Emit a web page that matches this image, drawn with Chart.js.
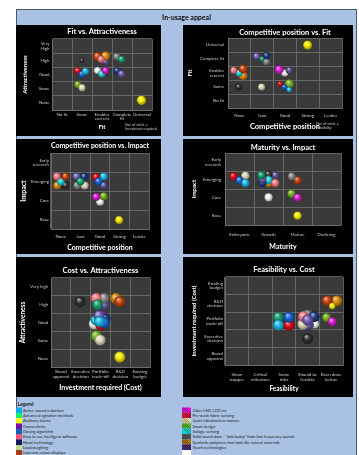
<!DOCTYPE html>
<html>
<head>
<meta charset="utf-8">
<script src="https://cdn.jsdelivr.net/npm/chart.js@4.4.1/dist/chart.umd.min.js"></script>
<style>
  html, body { margin: 0; padding: 0; background: #fff; width: 359px; height: 455px; overflow: hidden;
    font-family: Lato, "Liberation Sans", sans-serif; }
  #frame { position: absolute; left: 16px; top: 9px; width: 341px; height: 446px; background: #a9c2e3;
    border-top: 1px solid #4d5866; border-left: 1px solid #4d5866; border-right: 1px solid #4d5866; box-sizing: border-box; }
  #heading { position: absolute; left: 16px; top: 10px; width: 341px; height: 15px; line-height: 15px;
    text-align: center; font-weight: bold; font-size: 7px; color: #111; }
  .panel { position: absolute; background: #000; }
  .panel canvas { display: block; }
  #legend { position: absolute; left: 16px; top: 398px; width: 680px; height: 120px;
    transform: scale(0.5); transform-origin: 0 0; font-size: 8px; color: #1a1a1a; }
  #legend .head { position: absolute; left: 3px; top: 6px; font-size: 10px; font-weight: bold; line-height: 12px; }
  #legend .sw { position: absolute; }
  #legend .sw.hatch { background-image: repeating-linear-gradient(45deg, rgba(0,0,0,0.28) 0 1px, transparent 1px 3px); }
  #legend .txt { position: absolute; white-space: nowrap; line-height: 10.6px; }
</style>
</head>
<body>
<div id="frame"></div>
<div id="heading">In-usage appeal</div>
<div id="legend"><div class="head">Legend</div></div>

<script>
// ---- Technologies (one bubble per technology in every panel) ----
const items = [
  'Active sound reduction',
  'Advanced agitation methods',
  'Auditory alarms',
  'Connectivity',
  'Dosing algorithm',
  'Easy to use intelligent software',
  'Hood technology',
  'Load weighing',
  'Low cost colour displays',
  'Older LED, LCD etc',
  'Pre-wash fabric sensing',
  'Quiet vibrationless motors',
  'Smart design',
  'Soilage sensing',
  'Solid sound door - "dub bump" from low frequency sounds',
  'Synthetic polymers that look like natural materials',
  'Touch technologies',
  ''
];

// ---- Category tick labels (value 1 = first entry) ----
const fitLabels         = ['No fit', 'Some', 'Enables\ncurrent', 'Complete\nfit', 'Universal'];
const fitLabelsY        = ['No fit', 'Some', 'Enables\ncurrent', 'Complete fit', 'Universal'];
const attractLabels     = ['None', 'Some', 'Good', 'High', 'Very\nHigh'];
const attractLabelsB    = ['None', 'Some', 'Good', 'High', 'Very high'];
const competitiveLabels = ['None', 'Low', 'Good', 'Strong', 'Leader'];
const impactLabels      = ['Base', 'Core', 'Emerging', 'Early\nresearch'];
const maturityLabels    = ['Embryonic', 'Growth', 'Mature', 'Declining'];
const costLabels        = ['Board\napproval', 'Executive\ndecision', 'Portfolio\ntrade-off', 'R&D\ndecision', 'Existing\nbudget'];
const feasibilityLabels = ['Show\nstopper', 'Critical\nmilestone', 'Some\nrisks', 'Should be\nfeasible', 'Been done\nbefore'];

// ---- Scores per technology, per panel (category value, spread inside its cell) ----
const fitVsAttrFit   = [2.17, 3.97, 4.97, 3.97, 2.00, 2.95, 3.75, 3.73, 2.78, 3.17, 1.78, 2.00, 1.78, 2.98, 2.00, 3.17, 3.17, 2.77];
const fitVsAttrAttr  = [3.23, 4.07, 1.19, 3.05, 3.02, 4.07, 3.26, 4.26, 4.26, 3.28, 3.26, 2.07, 2.30, 3.05, 4.00, 4.30, 3.90, 3.28];

const compVsFitComp  = [3.18, 1.99, 3.99, 1.75, 2.97, 0.75, 2.19, 2.18, 1.16, 2.74, 2.79, 1.97, 3.19, 0.99, 0.97, 1.16, 3.19, 2.99];
const compVsFitFit   = [1.81, 4.00, 5.00, 4.19, 2.00, 3.19, 4.24, 3.81, 3.29, 3.24, 2.21, 2.00, 2.24, 3.00, 2.00, 2.81, 3.19, 3.00];

const compVsImpComp  = [3.19, 2.00, 3.97, 1.80, 2.92, 0.80, 2.19, 1.83, 1.24, 2.80, 2.80, 2.22, 3.19, 1.00, 1.24, 0.81, 3.19, 3.00];
const compVsImpImp   = [3.26, 3.00, 0.98, 3.26, 3.00, 3.26, 3.26, 2.79, 3.26, 2.19, 3.23, 2.79, 2.23, 3.00, 2.79, 2.79, 2.79, 1.93];

const matVsImpMat    = [1.20, 1.75, 3.00, 1.79, 1.00, 2.23, 1.79, 2.80, 3.00, 3.00, 0.79, 1.20, 2.79, 2.00, 2.00, 2.00, 2.23, 2.00];
const matVsImpImp    = [2.83, 3.26, 1.02, 3.06, 2.98, 2.83, 2.83, 3.20, 2.98, 2.02, 3.20, 3.24, 2.24, 3.00, 3.31, 2.83, 3.26, 2.04];

const costVsAttrCost = [2.95, 2.85, 3.97, 2.92, 3.20, 2.78, 3.23, 3.18, 3.97, 3.07, 3.02, 2.98, 2.78, 2.78, 1.97, 3.77, 3.20, 2.68];
const costVsAttrAttr = [3.05, 4.00, 1.06, 3.38, 2.98, 4.36, 3.21, 4.36, 4.17, 3.34, 2.87, 2.02, 2.25, 3.13, 4.17, 4.36, 3.98, 2.92];

const feasVsCostFeas = [2.76, 2.76, 5.04, 4.00, 3.21, 3.82, 4.27, 4.00, 4.83, 5.04, 3.21, 3.80, 4.80, 3.85, 4.00, 5.23, 4.03, 4.30];
const feasVsCostCost = [2.77, 3.21, 3.85, 3.05, 3.21, 3.25, 3.25, 3.34, 4.15, 2.96, 2.77, 2.83, 3.20, 3.00, 2.00, 4.15, 2.77, 2.83];

// ---- Colours ----
const bubbleColours = ['#1fb6e6', '#1a9c6c', '#f6ee00', '#6e5eb0', '#1462d6', '#f27a84', '#1b3b80', '#858585', '#c2420e',
                       '#de1ccf', '#de0a18', '#ddd8b8', '#78b020', '#22d2d4', '#2f2f2f', '#d8860e', '#5c5092', '#f2f2f2'];
const swatchColours = ['#12a8ee', '#12ee74', '#ffff00', '#7612a2', '#1262c4', '#f0566e', '#121a5c', '#bcd890', '#a83e12',
                       '#dc10dc', '#cc1242', '#d8d3a2', '#5cb032', '#14d0d0', '#555555', '#aa7214', '#43296a', '#ffffff'];

const FONT = 'Lato, "Liberation Sans", sans-serif';
Chart.defaults.font.family = FONT;
Chart.defaults.color = '#cfcfcf';
const GRID = '#717171';
const PLOT_BG = '#3a3a3a';

function shade(hex, amt) {
  const n = parseInt(hex.slice(1), 16);
  const c = [n >> 16, (n >> 8) & 255, n & 255];
  const t = amt < 0 ? 0 : 255, p = Math.abs(amt);
  return 'rgb(' + c.map(v => Math.round(v + (t - v) * p)).join(',') + ')';
}

// Shiny sphere fill centred on the bubble's own pixel position
function glossy(colour) {
  return (ctx) => {
    if (ctx.type !== 'data' || !ctx.raw) return colour;
    const chart = ctx.chart, sx = chart.scales.x, sy = chart.scales.y;
    if (!sx || !sy) return colour;
    const cx = sx.getPixelForValue(ctx.raw.x), cy = sy.getPixelForValue(ctx.raw.y), r = ctx.raw.r;
    if (!isFinite(cx) || !isFinite(cy)) return colour;
    const g = chart.ctx.createRadialGradient(cx - r * 0.3, cy - r * 0.45, r * 0.05, cx, cy, r);
    g.addColorStop(0, shade(colour, 0.6));
    g.addColorStop(0.5, colour);
    g.addColorStop(1, shade(colour, -0.4));
    return g;
  };
}

const plotBg = {
  id: 'plotBg',
  beforeDraw(chart) {
    const { ctx, chartArea: a } = chart;
    ctx.save();
    ctx.fillStyle = PLOT_BG;
    ctx.fillRect(a.left, a.top, a.right - a.left, a.bottom - a.top);
    ctx.restore();
  }
};

const cornerNote = {
  id: 'cornerNote',
  afterDraw(chart, args, opts) {
    if (!opts || !opts.lines) return;
    const ctx = chart.ctx;
    ctx.save();
    ctx.fillStyle = '#c8c8c8';
    ctx.font = opts.size + 'px ' + FONT;
    ctx.textBaseline = 'middle';
    for (let i = 0; i < opts.lines.length; i++) ctx.fillText(opts.lines[i], opts.x, opts.y + i * opts.size * 1.2);
    ctx.restore();
  }
};

// Category axis on a linear scale: labels on whole values, grid lines between them
function categoryAxis(position, labels, spec) {
  const vertical = position === 'left';
  return {
    type: 'linear',
    position,
    min: 0.5,
    max: labels.length + 0.5,
    afterBuildTicks: sc => { sc.ticks = labels.map((_, i) => ({ value: i + 1 })); },
    afterFit: sc => { if (vertical) sc.width = spec.size; else sc.height = spec.size; },
    ticks: {
      autoSkip: false, maxRotation: 0, minRotation: 0,
      padding: spec.tickPad,
      color: '#cdcdcd',
      font: { size: 4.4, lineHeight: 1.0 },
      callback: v => (labels[Math.round(v) - 1] || '').split('\n')
    },
    grid: { offset: true, color: GRID, lineWidth: 0.8, drawTicks: false },
    border: { color: GRID, width: 0.8 },
    title: {
      display: true, text: spec.title, color: '#ffffff',
      font: { size: spec.titleFont, weight: 'bold', lineHeight: 1 },
      padding: vertical ? { top: spec.titlePad, bottom: 0 } : { top: 0, bottom: spec.titlePad }
    }
  };
}

function makePanel(p) {
  const div = document.createElement('div');
  div.className = 'panel';
  Object.assign(div.style, { left: p.left + 'px', top: p.top + 'px', width: p.w + 'px', height: p.h + 'px' });
  const cv = document.createElement('canvas');
  cv.width = p.w; cv.height = p.h;
  cv.style.width = p.w + 'px'; cv.style.height = p.h + 'px';
  div.appendChild(cv);
  document.body.appendChild(div);

  const TITLE_FONT = 7.5;
  const tTop = p.titleY - TITLE_FONT / 2;
  const tBottom = p.plot.t - TITLE_FONT - tTop;

  const datasets = items.map((name, i) => ({
    label: name,
    data: [{ x: p.xs[i], y: p.ys[i], r: p.radius(i) }],
    backgroundColor: glossy(bubbleColours[i]),
    borderWidth: 0,
    hoverBorderWidth: 0,
    clip: false
  }));

  new Chart(cv, {
    type: 'bubble',
    data: { datasets },
    options: {
      responsive: false,
      devicePixelRatio: 1,
      animation: false,
      events: [],
      layout: { padding: { left: 0, top: 0, right: p.w - p.plot.r, bottom: 0 } },
      plugins: {
        legend: { display: false },
        tooltip: { enabled: false },
        title: {
          display: true, text: p.title, color: '#ffffff', fullSize: false,
          font: { size: TITLE_FONT, weight: 'bold', lineHeight: 1 },
          padding: { top: tTop, bottom: tBottom }
        },
        cornerNote: p.note || {}
      },
      scales: {
        x: categoryAxis('bottom', p.x.labels, {
          size: p.h - p.plot.b, tickPad: p.x.tickTop - p.plot.b, title: p.x.title,
          titleFont: p.x.titleFont, titlePad: p.h - p.x.titleY - p.x.titleFont / 2
        }),
        y: categoryAxis('left', p.y.labels, {
          size: p.plot.l, tickPad: p.plot.l - p.y.tickRight, title: p.y.title,
          titleFont: p.y.titleFont, titlePad: p.y.titleX - p.y.titleFont / 2
        })
      }
    },
    plugins: [plotBg, cornerNote]
  });
}

const level = v => Math.round(v);

const panels = [
  { left: 16, top: 25, w: 145, h: 111, plot: { l: 36, t: 14, r: 136, b: 85 },
    title: 'Fit vs. Attractiveness', titleY: 7,
    x: { labels: fitLabels, title: 'Fit', titleFont: 6, titleY: 101.7, tickTop: 87 },
    y: { labels: attractLabels, title: 'Attractiveness', titleFont: 6, titleX: 9, tickRight: 33.5 },
    xs: fitVsAttrFit, ys: fitVsAttrAttr,
    radius: i => 1.1 * level(costVsAttrCost[i]) + 0.3,
    note: { lines: ['Size of circle =', 'Investment required'], x: 109, y: 100, size: 3.6 } },

  { left: 183, top: 25, w: 170, h: 111, plot: { l: 45, t: 13, r: 159, b: 83 },
    title: 'Competitive position vs. Fit', titleY: 7.3,
    x: { labels: competitiveLabels, title: 'Competitive position', titleFont: 7.5, titleY: 102, tickTop: 88.5 },
    y: { labels: fitLabelsY, title: 'Fit', titleFont: 6, titleX: 6.7, tickRight: 41 },
    xs: compVsFitComp, ys: compVsFitFit,
    radius: i => 0.9 * level(feasVsCostFeas[i]),
    note: { lines: ['Size of circle =', 'Feasibility'], x: 133, y: 99, size: 3.6 } },

  { left: 16, top: 139, w: 145, h: 115, plot: { l: 35, t: 14, r: 133, b: 90 },
    title: 'Competitive position vs. Impact', titleY: 7,
    x: { labels: competitiveLabels, title: 'Competitive position', titleFont: 7, titleY: 108.3, tickTop: 95.5 },
    y: { labels: impactLabels, title: 'Impact', titleFont: 7, titleX: 7.3, tickRight: 33 },
    xs: compVsImpComp, ys: compVsImpImp,
    radius: () => 4 },

  { left: 183, top: 139, w: 170, h: 115, plot: { l: 42, t: 14, r: 158, b: 86 },
    title: 'Maturity vs. Impact', titleY: 8.7,
    x: { labels: maturityLabels, title: 'Maturity', titleFont: 7, titleY: 107.7, tickTop: 93 },
    y: { labels: impactLabels, title: 'Impact', titleFont: 6, titleX: 11, tickRight: 38 },
    xs: matVsImpMat, ys: matVsImpImp,
    radius: () => 4.2 },

  { left: 16, top: 257, w: 145, h: 140, plot: { l: 35, t: 21, r: 134, b: 110 },
    title: 'Cost vs. Attractiveness', titleY: 13.3,
    x: { labels: costLabels, title: 'Investment required (Cost)', titleFont: 7, titleY: 130.3, tickTop: 112.8 },
    y: { labels: attractLabelsB, title: 'Attractiveness', titleFont: 6.5, titleX: 7.3, tickRight: 32.3 },
    xs: costVsAttrCost, ys: costVsAttrAttr,
    radius: () => 5.5 },

  { left: 183, top: 257, w: 170, h: 140, plot: { l: 42, t: 20, r: 160, b: 108 },
    title: 'Feasibility vs. Cost', titleY: 12.3,
    x: { labels: feasibilityLabels, title: 'Feasibility', titleFont: 6.5, titleY: 132.3, tickTop: 115.8 },
    y: { labels: costLabels, title: 'Investment required (Cost)', titleFont: 6, titleX: 11, tickRight: 40 },
    xs: feasVsCostFeas, ys: feasVsCostCost,
    radius: i => 3.2 * Math.sqrt(level(compVsImpImp[i])) }
];

panels.forEach(makePanel);

// ---- Legend (two columns of colour keys), drawn at double size and scaled down ----
const legend = document.getElementById('legend');
items.forEach((name, i) => {
  const col = i < 9 ? 0 : 1, row = i % 9;
  const pitch = 10.66;
  const top = (col === 0 ? 19 : 18.6) + row * pitch;
  const sw = document.createElement('div');
  sw.className = 'sw' + (col === 1 && name ? ' hatch' : '');
  Object.assign(sw.style, {
    left: (col === 0 ? 0 : 332) + 'px', top: top + 'px',
    width: (col === 0 ? 12 : 18) + 'px', height: pitch + 'px',
    backgroundColor: swatchColours[i]
  });
  legend.appendChild(sw);
  const tx = document.createElement('div');
  tx.className = 'txt';
  tx.textContent = name;
  Object.assign(tx.style, { left: (col === 0 ? 14 : 353) + 'px', top: top + 'px' });
  legend.appendChild(tx);
});
</script>
</body>
</html>
